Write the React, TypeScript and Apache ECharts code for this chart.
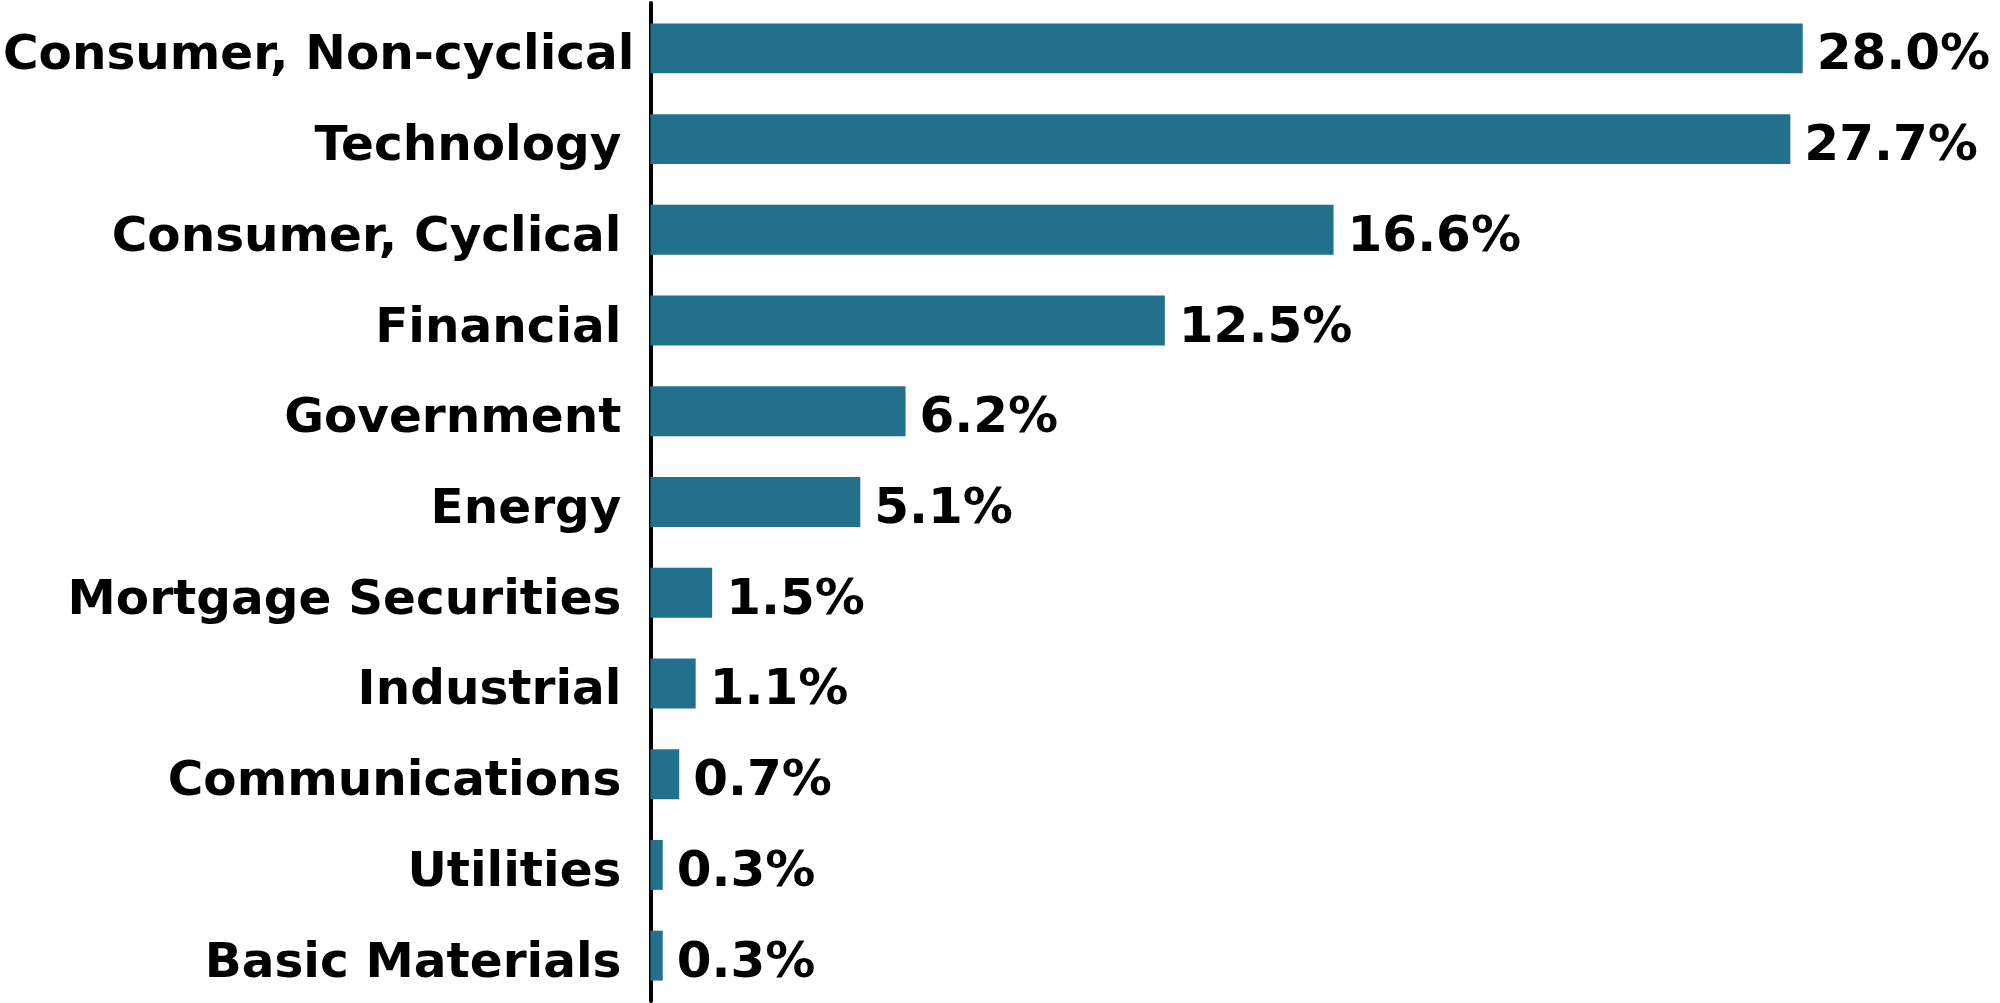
import React, { useEffect, useRef } from "react";
import * as echarts from "echarts";

const categories = [
  "Consumer, Non-cyclical",
  "Technology",
  "Consumer, Cyclical",
  "Financial",
  "Government",
  "Energy",
  "Mortgage Securities",
  "Industrial",
  "Communications",
  "Utilities",
  "Basic Materials",
];
const values = [28.0, 27.7, 16.6, 12.5, 6.2, 5.1, 1.5, 1.1, 0.7, 0.3, 0.3];

export default function App() {
  const ref = useRef<HTMLDivElement>(null);
  useEffect(() => {
    if (!ref.current) return;
    const chart = echarts.init(ref.current, undefined, { renderer: "svg" });
    const font = "'DejaVu Sans', Verdana, sans-serif";
    const catText = {
      color: "#000",
      fontSize: 48.5,
      fontWeight: "bold",
      fontFamily: font,
    };
    chart.setOption({
      animation: false,
      grid: { left: 650, right: 115, top: 3, bottom: 2, containLabel: false },
      xAxis: {
        type: "value",
        min: 0,
        max: 30,
        show: false,
      },
      yAxis: {
        type: "category",
        data: categories,
        inverse: true,
        axisLine: { show: true, lineStyle: { color: "#000", width: 4 } },
        axisTick: { show: false },
        axisLabel: {
          ...catText,
          margin: 16,
          formatter: (v: string) =>
            v === categories[0] ? `{a|${v}}` : `{b|${v}}`,
          rich: {
            a: { ...catText, padding: [8, 0, 0, 0] },
            b: { ...catText, padding: [8, 13, 0, 0] },
          },
        },
        splitLine: { show: false },
      },
      series: [
        {
          type: "bar",
          data: values,
          barWidth: "55%",
          itemStyle: { color: "#22708B" },
          label: {
            show: true,
            position: "right",
            distance: 14,
            offset: [0, 4],
            formatter: (p: any) => p.value.toFixed(1) + "%",
            color: "#000",
            fontSize: 50,
            fontWeight: "bold",
            fontFamily: font,
          },
        },
      ],
    });
    return () => chart.dispose();
  }, []);
  return (
    <div
      ref={ref}
      style={{ position: "absolute", left: 0, top: 0, width: 2000, height: 1003 }}
    />
  );
}
